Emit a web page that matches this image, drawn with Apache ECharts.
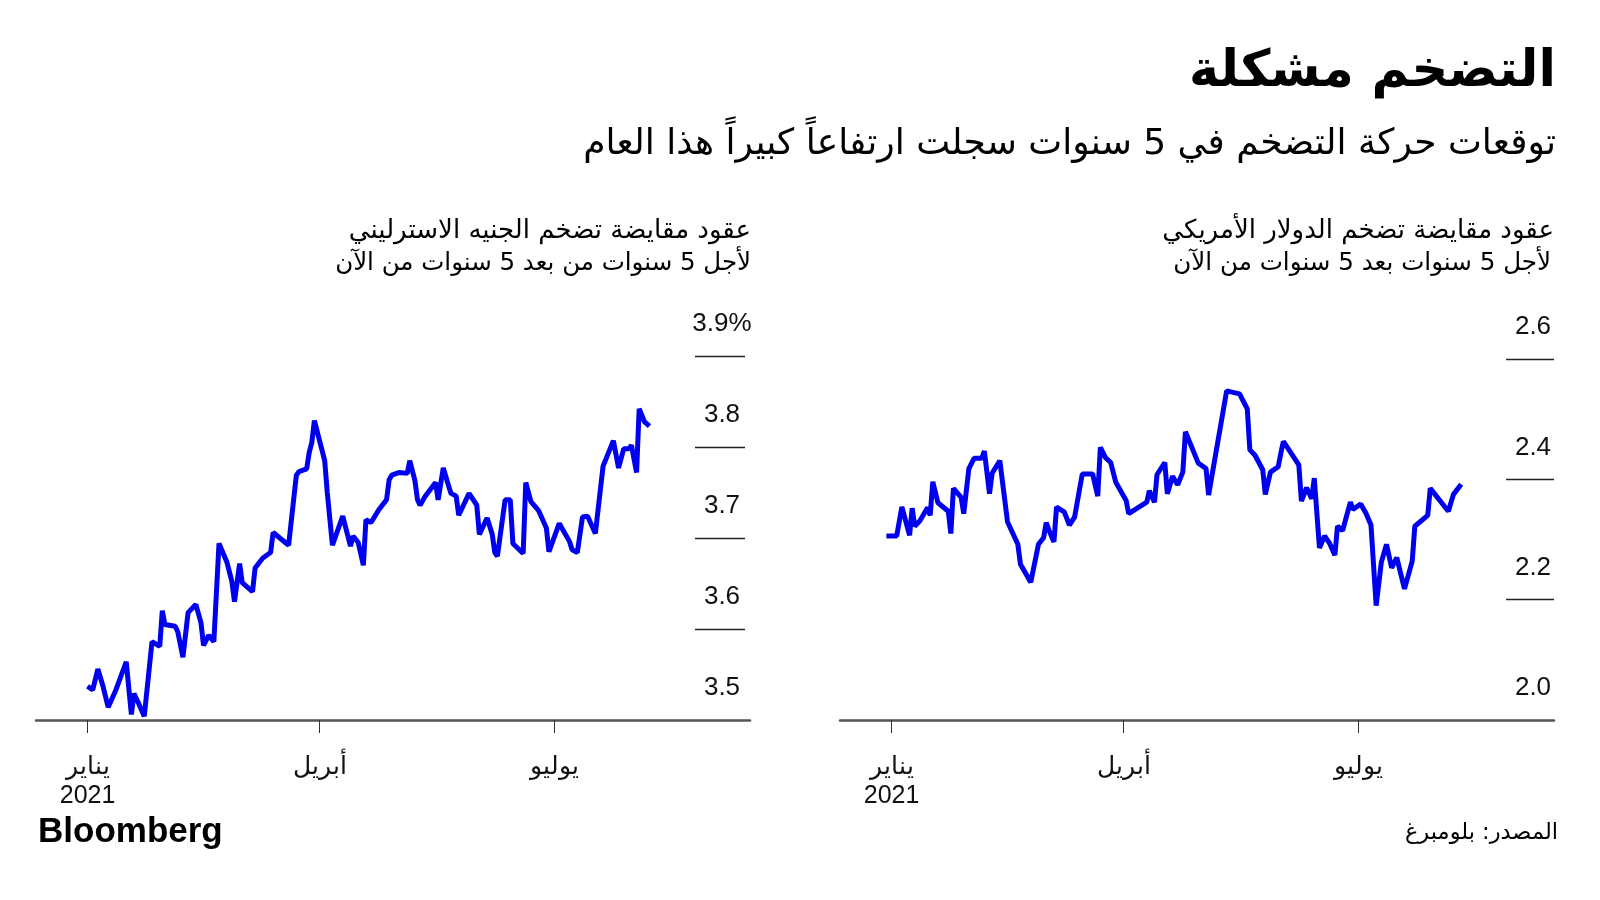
<!DOCTYPE html>
<html>
<head>
<meta charset="utf-8">
<script src="https://cdn.jsdelivr.net/npm/echarts@6/dist/echarts.min.js"></script>
<style>
html,body{margin:0;padding:0;background:#ffffff;}
#c{width:1600px;height:900px;}
</style>
</head>
<body>
<div id="c"></div>
<script>
// ---- Data (x = days since 1 Jan 2021) ----
const tickDays = [0, 90, 181];
const tickLabels = ['يناير\n2021', 'أبريل', 'يوليو'];

// GBP 5y5y inflation swap
const gbpDays = [0,2,4,6,8,11,15,17,18,20,22,25,28,29,30,34,35,37,39,42,44,45,47,49,51,54,56,57,59,60,64,65,68,71,72,78,81,82,85,86,87,88,92,93,95,99,102,103,105,107,108,110,113,116,117,118,121,124,125,127,128,129,131,135,136,138,140,141,143,144,148,151,152,155,157,158,159,162,164,165,169,170,172,175,178,179,183,187,188,190,192,194,197,200,204,206,208,210,211,213,214,216,218];
const gbpValues = [3.537,3.533,3.556,3.537,3.514,3.533,3.564,3.506,3.529,3.517,
3.504,3.586,3.581,3.620,3.605,3.603,3.597,3.569,3.618,3.627,
3.607,3.582,3.593,3.586,3.694,3.674,3.652,3.630,3.672,3.651,
3.641,3.667,3.678,3.684,3.706,3.692,3.769,3.773,3.776,3.794,
3.805,3.829,3.785,3.750,3.692,3.724,3.691,3.702,3.695,3.670,
3.720,3.717,3.731,3.742,3.764,3.769,3.772,3.771,3.785,3.763,
3.742,3.736,3.746,3.761,3.742,3.777,3.758,3.749,3.746,3.725,
3.749,3.736,3.704,3.722,3.704,3.684,3.680,3.742,3.742,3.694,
3.683,3.761,3.740,3.730,3.711,3.685,3.716,3.696,3.687,3.684,
3.723,3.724,3.705,3.779,3.807,3.777,3.798,3.798,3.802,3.772,
3.842,3.828,3.823];

// USD 5y5y inflation swap
const usdDays = [-2,2,4,7,8,9,11,14,15,16,18,20,22,23,24,27,28,30,32,35,36,38,39,42,45,49,50,54,57,59,60,61,63,64,67,69,71,74,78,80,81,83,85,87,91,92,99,100,102,103,106,107,109,111,113,114,119,122,123,130,135,138,139,141,144,145,147,150,151,152,158,159,161,163,164,166,168,170,172,173,175,178,179,182,184,186,188,190,192,194,196,199,202,203,208,209,216,218,221];
const usdValues = [2.306,2.306,2.354,2.307,2.352,2.322,2.331,2.353,2.340,2.396,
2.361,2.354,2.347,2.310,2.385,2.370,2.343,2.418,2.435,2.435,
2.447,2.376,2.410,2.431,2.329,2.292,2.259,2.229,2.292,2.303,
2.328,2.316,2.296,2.354,2.346,2.324,2.337,2.409,2.409,2.372,
2.453,2.436,2.428,2.395,2.365,2.343,2.362,2.381,2.362,2.408,
2.428,2.376,2.405,2.391,2.412,2.479,2.427,2.418,2.374,2.547,
2.542,2.517,2.449,2.440,2.416,2.375,2.412,2.421,2.443,2.463,
2.424,2.364,2.386,2.368,2.402,2.286,2.306,2.293,2.274,2.322,
2.315,2.362,2.350,2.359,2.344,2.324,2.190,2.262,2.292,2.253,
2.270,2.218,2.264,2.322,2.340,2.385,2.347,2.375,2.392];

const gbpAxis = {min: 3.5, max: 3.9, interval: 0.1, unitTop: '3.9'};
const usdAxis = {min: 2.0, max: 2.6, interval: 0.2};

const texts = {
  title: 'التضخم مشكلة',
  subtitle: 'توقعات حركة التضخم في 5 سنوات سجلت ارتفاعاً كبيراً هذا العام',
  gbp1: 'عقود مقايضة تضخم الجنيه الاسترليني',
  gbp2: 'لأجل 5 سنوات من بعد 5 سنوات من الآن',
  usd1: 'عقود مقايضة تضخم الدولار الأمريكي',
  usd2: 'لأجل 5 سنوات بعد 5 سنوات من الآن',
  source: 'المصدر: بلومبرغ',
  brand: 'Bloomberg'
};

// ---- Chart ----
const AR = '"DejaVu Sans", sans-serif';
const LAT = '"Liberation Sans", Arial, sans-serif';
const zip = (a, b) => a.map((d, i) => [d, b[i]]);

const chart = echarts.init(document.getElementById('c'), null, {renderer: 'canvas', width: 1600, height: 900});

function mainX(gi) {
  return {
    gridIndex: gi, type: 'value', min: -20, max: 257,
    axisLine: {show: true, lineStyle: {color: '#555', width: 2.5}},
    axisTick: {show: true, customValues: tickDays, length: 13, lineStyle: {color: '#333', width: 1}},
    axisLabel: {
      customValues: tickDays, margin: 33, fontSize: 25, lineHeight: 29, color: '#111',
      fontFamily: LAT,
      formatter: v => tickLabels[tickDays.indexOf(Math.round(v))] || ''
    },
    splitLine: {show: false}
  };
}
function hiddenX(gi) {
  return {gridIndex: gi, type: 'value', min: 0, max: 1, show: false};
}
function labelY(gi, ax, margin, pct) {
  return {
    gridIndex: gi, type: 'value', min: ax.min, max: ax.max, interval: ax.interval,
    position: 'right',
    axisLine: {show: false}, axisTick: {show: false},
    splitLine: {show: true, lineStyle: {color: ['rgba(0,0,0,0)', '#222', '#222', '#222', '#222'], width: 1.3}},
    axisLabel: {
      inside: true, align: 'center', margin: margin, verticalAlign: 'bottom',
      padding: [0, 0, 19, 0], fontSize: 26, color: '#111', fontFamily: LAT,
      formatter: v => {
        const s = v.toFixed(1);
        return (pct && s === pct) ? s + '%' : s;
      }
    }
  };
}
function hiddenY(gi, ax) {
  return {gridIndex: gi, type: 'value', min: ax.min, max: ax.max, interval: ax.interval, show: false, splitLine: {show: false}};
}

function txt(x, y, text, size, align, weight, family) {
  return {
    type: 'text', silent: true,
    style: {
      x: x, y: y, text: text, fill: '#000',
      font: (weight || 'normal') + ' ' + size + 'px ' + (family || AR),
      align: align, verticalAlign: 'middle',
      textAlign: align, textVerticalAlign: 'middle'
    }
  };
}

const option = {
  animation: false,
  backgroundColor: '#ffffff',
  grid: [
    {left: 36, top: 356, width: 714, height: 364},
    {left: 695, top: 356, width: 50, height: 364},
    {left: 840, top: 359, width: 714, height: 361},
    {left: 1506, top: 359, width: 48, height: 361}
  ],
  xAxis: [mainX(0), hiddenX(1), mainX(2), hiddenX(3)],
  yAxis: [
    hiddenY(0, gbpAxis), labelY(1, gbpAxis, 23, gbpAxis.unitTop),
    hiddenY(2, usdAxis), labelY(3, usdAxis, 21, null)
  ],
  series: [
    {type: 'line', xAxisIndex: 0, yAxisIndex: 0, data: zip(gbpDays, gbpValues),
     symbol: 'none', lineStyle: {color: '#0000f0', width: 5}, z: 5},
    {type: 'line', xAxisIndex: 2, yAxisIndex: 2, data: zip(usdDays, usdValues),
     symbol: 'none', lineStyle: {color: '#0000f0', width: 5}, z: 5}
  ],
  graphic: [
    txt(1556, 73, texts.title, 51, 'right', 'bold'),
    txt(1556, 145, texts.subtitle, 36, 'right'),
    txt(751, 231, texts.gbp1, 26, 'right'),
    txt(751, 264, texts.gbp2, 24.5, 'right'),
    txt(1554, 231, texts.usd1, 26, 'right'),
    txt(1551, 264, texts.usd2, 24.6, 'right'),
    txt(1558, 833, texts.source, 22.5, 'right'),
    txt(38, 832, texts.brand, 35, 'left', 'bold', LAT)
  ]
};
chart.setOption(option);
</script>
</body>
</html>
